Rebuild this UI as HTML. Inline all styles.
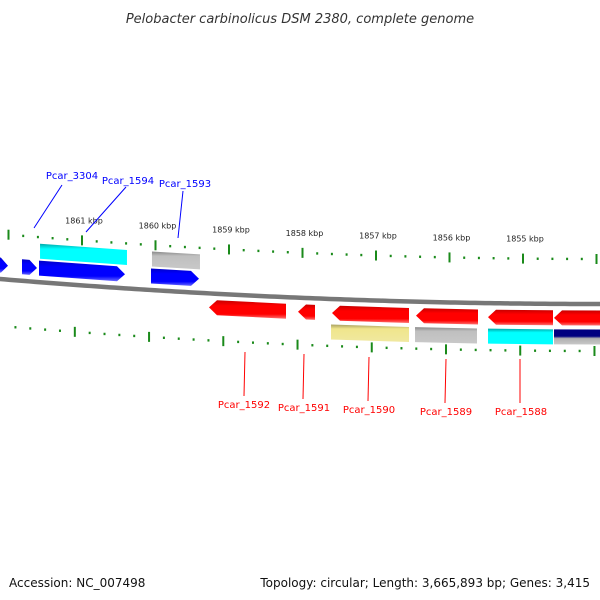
<!DOCTYPE html>
<html><head><meta charset="utf-8"><style>
html,body{margin:0;padding:0;background:#fff;}
svg{display:block;font-family:"DejaVu Sans","Liberation Sans",sans-serif;}
</style></head><body>
<svg id="map" width="600" height="600" viewBox="0 0 600 600" xmlns="http://www.w3.org/2000/svg">
<defs>
<linearGradient id="gBlue" x1="0" y1="0" x2="0" y2="1"><stop offset="0" stop-color="#0000c8"/><stop offset="0.3" stop-color="#0000ff"/><stop offset="0.75" stop-color="#0000ff"/><stop offset="1" stop-color="#6a6aff"/></linearGradient>
<linearGradient id="gRed" x1="0" y1="0" x2="0" y2="1"><stop offset="0" stop-color="#c80000"/><stop offset="0.3" stop-color="#ff0000"/><stop offset="0.75" stop-color="#ff0000"/><stop offset="1" stop-color="#ff7070"/></linearGradient>
<linearGradient id="gCyan" x1="0" y1="0" x2="0" y2="1"><stop offset="0" stop-color="#00a8a8"/><stop offset="0.25" stop-color="#00ffff"/><stop offset="1" stop-color="#00ffff"/></linearGradient>
<linearGradient id="gGray" x1="0" y1="0" x2="0" y2="1"><stop offset="0" stop-color="#8a8a8a"/><stop offset="0.25" stop-color="#bfbfbf"/><stop offset="1" stop-color="#c8c8c8"/></linearGradient>
<linearGradient id="gKhaki" x1="0" y1="0" x2="0" y2="1"><stop offset="0" stop-color="#a8a060"/><stop offset="0.25" stop-color="#f0e68c"/><stop offset="1" stop-color="#f0e8a0"/></linearGradient>
<linearGradient id="gNavy" x1="0" y1="0" x2="0" y2="1"><stop offset="0" stop-color="#000080"/><stop offset="0.45" stop-color="#000080"/><stop offset="0.6" stop-color="#b0b0b0"/><stop offset="1" stop-color="#c8c8c8"/></linearGradient>
</defs>
<text x="300" y="23" text-anchor="middle" font-size="13" font-style="italic" fill="#333">Pelobacter carbinolicus DSM 2380, complete genome</text>
<g id="layer"></g>
<text x="9" y="587" font-size="12" fill="#111">Accession: NC_007498</text>
<text x="590" y="587" text-anchor="end" font-size="12" fill="#111">Topology: circular; Length: 3,665,893 bp; Genes: 3,415</text>
</svg>
<script>
// gene data in kbp (start, end)
const fwdGenes = [[1862.2,1862.007],[1861.816,1861.612],[1861.585,1860.415],[1860.061,1859.408]];
const revGenes = [[1859.272,1858.224],[1858.061,1857.830],[1857.599,1856.551],[1856.456,1855.612],[1855.476,1854.592],[1854.578,1853.90]];
const topBand = [[1861.571,1860.388,'gCyan'],[1860.048,1859.395,'gGray']];
const botBand = [[1857.612,1856.551,'gKhaki'],[1856.469,1855.626,'gGray'],[1855.476,1854.592,'gCyan'],[1854.578,1853.90,'gNavy']];
const tickLabels = ['1861 kbp','1860 kbp','1859 kbp','1858 kbp','1857 kbp','1856 kbp','1855 kbp'];
// label, text x, text baseline, leader start (near text) x,y, leader end x,y
const topLabels = [['Pcar_3304',72,179,62,185,34,228],['Pcar_1594',128,184,126,187,86,232],['Pcar_1593',185,187,183,191,178,238]];
const botLabels = [['Pcar_1592',244,408,245,352,244,396],['Pcar_1591',304,411,304,354,303,399],['Pcar_1590',369,413,369,357,368,401],['Pcar_1589',446,415,446,359,445,403],['Pcar_1588',521,415,520,359,520,403]];

const NS='http://www.w3.org/2000/svg';
const layer=document.getElementById('layer');
const X=k=>82+(1861-k)*73.5;
const Yb=x=>304-25*Math.pow((600-x)/600,2);
function mk(t,a){const e=document.createElementNS(NS,t);for(const k in a)e.setAttribute(k,a[k]);layer.appendChild(e);return e;}

let d='';for(let x=-5;x<=605;x+=5){const y=Yb(x);d+=(x===-5?'M':'L')+x+' '+y.toFixed(2);}
const bb=mk('path',{d:d,stroke:'#777','stroke-width':4.5,fill:'none'});



for(let k=1862.2;k>=1853.8;k-=0.2){
  const kr=Math.round(k*10)/10;
  const major=Math.abs(kr-Math.round(kr))<0.01;
  const xt=X(kr);
  if(xt>-3&&xt<603){
    const y=Yb(xt)-45;
    const t=mk('line',{x1:xt,y1:y-(major?5:1.2),x2:xt,y2:y+(major?5:1.2),stroke:'#1a8a1a','stroke-width':2});
    
    
  }
  const xb=xt-8+6*(xt/600);
  if(xb>10&&xb<603){
    const y=Yb(xb)+47;
    const t=mk('line',{x1:xb,y1:y-(major?5:1.2),x2:xb,y2:y+(major?5:1.2),stroke:'#1a8a1a','stroke-width':2});
    
    
  }
}
tickLabels.forEach((s,i)=>{
  const k=1861-i;const x=X(k)+2;
  const t=mk('text',{x:x,y:Yb(x)-62,'text-anchor':'middle','font-size':8,fill:'#222'});
  t.textContent=s;
  
  
});

function rect(a,b,off,fill,name){
  let x1=X(a),x2=X(b);if(x1>x2)[x1,x2]=[x2,x1];
  const h=15,ya=Yb(x1)+off,yb=Yb(x2)+off;
  const e=mk('polygon',{points:`${x1},${ya-h/2} ${x2},${yb-h/2} ${x2},${yb+h/2} ${x1},${ya+h/2}`,fill:`url(#${fill})`});
  
  
}
function arrow(a,b,off,fill,dir,name){
  let x1=X(a),x2=X(b);if(x1>x2)[x1,x2]=[x2,x1];
  const h=15, tip=Math.min(8,(x2-x1)*0.5);
  let pts;
  if(dir>0){
    const xs=x2-tip;
    pts=[[x1,Yb(x1)+off-h/2],[xs,Yb(xs)+off-h/2],[x2,Yb(x2)+off],[xs,Yb(xs)+off+h/2],[x1,Yb(x1)+off+h/2]];
  }else{
    const xs=x1+tip;
    pts=[[x1,Yb(x1)+off],[xs,Yb(xs)+off-h/2],[x2,Yb(x2)+off-h/2],[x2,Yb(x2)+off+h/2],[xs,Yb(xs)+off+h/2]];
  }
  const e=mk('polygon',{points:pts.map(p=>p[0].toFixed(1)+','+p[1].toFixed(1)).join(' '),fill:`url(#${fill})`});
  
  
}
topBand.forEach(g=>rect(g[0],g[1],-31,g[2],'feature-band-top'));
botBand.forEach(g=>rect(g[0],g[1],33,g[2],'feature-band-bottom'));
fwdGenes.forEach(g=>arrow(g[0],g[1],-14,'gBlue',1,'forward-gene'));
revGenes.forEach(g=>arrow(g[0],g[1],14,'gRed',-1,'reverse-gene'));

function lab(l,color){
  const ln=mk('line',{x1:l[3],y1:l[4],x2:l[5],y2:l[6],stroke:color,'stroke-width':1});
  
  
  const t=mk('text',{x:l[1],y:l[2],'text-anchor':'middle','font-size':10,fill:color});
  t.textContent=l[0];
  
  
}
topLabels.forEach(l=>lab(l,'#0000ff'));
botLabels.forEach(l=>lab(l,'#ff0000'));
</script>
</body></html>
